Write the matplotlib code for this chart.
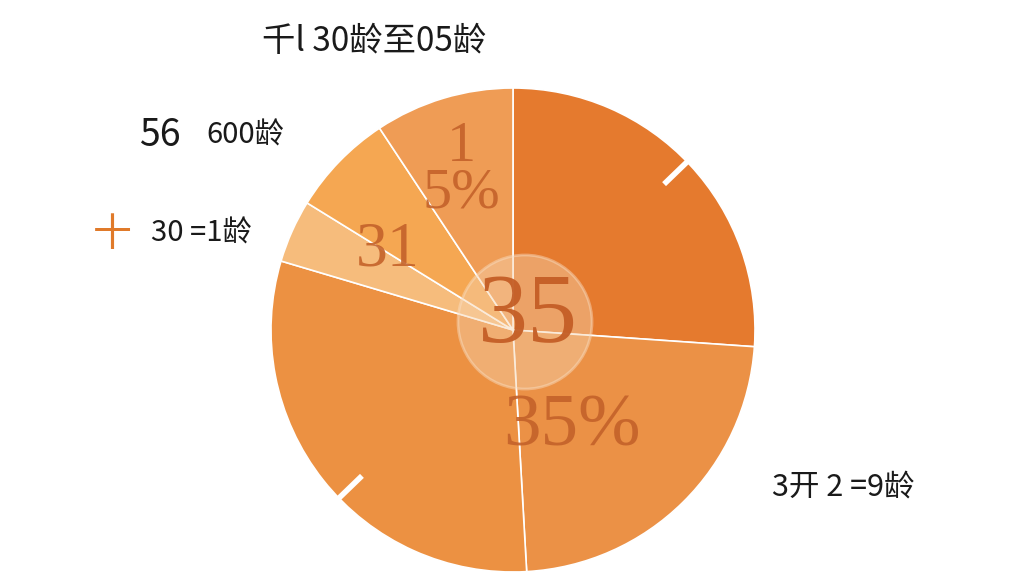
import matplotlib
matplotlib.use("Agg")
import matplotlib.pyplot as plt
import numpy as np
from matplotlib.patches import Circle

# slice shares (percent), clockwise from 12 o'clock
shares = [26.1, 23.0, 30.5, 4.2, 6.9, 9.3]
colors = ["#E57A2E", "#EB9146", "#EC9142", "#F6BC7C", "#F5A752", "#EF9C55"]

inner_texts = ["1\n5%", "31", "35%", "35"]
outer_labels = ["千l 30龄至05龄", "56", "600龄", "十", "30 =1龄", "3开 2 =9龄"]

W, H = 1024, 576
fig = plt.figure(figsize=(10.24, 5.76), dpi=100)
ax = fig.add_axes([0, 0, 1, 1])

cx, cy, r = 513, H - 330, 242
ax.pie(shares, colors=colors, startangle=90, counterclock=False,
       center=(cx, cy), radius=r, frame=True,
       wedgeprops=dict(edgecolor="white", linewidth=1.2))
ax.set_xlim(0, W)
ax.set_ylim(0, H)
ax.axis("off")

# small white rim marks
for ang in (44, 224):
    a = np.deg2rad(ang)
    r0, r1 = r - 32, r + 2
    ax.plot([cx + r0 * np.cos(a), cx + r1 * np.cos(a)],
            [cy + r0 * np.sin(a), cy + r1 * np.sin(a)],
            color="white", lw=4, solid_capstyle="butt", zorder=5)

# translucent centre disc
ax.add_patch(Circle((525, H - 322), 67, facecolor="#F6D3AE", alpha=0.45,
                    edgecolor="#F9E0C6", lw=2, zorder=6))

serif = "Liberation Serif"
tcol = "#C4622A"
ax.text(461, H - 170, inner_texts[0], fontsize=42, family=serif, color=tcol,
        ha="center", va="center", linespacing=0.85, zorder=7, alpha=0.9)
ax.text(388, H - 250, inner_texts[1], fontsize=46, family=serif, color=tcol,
        ha="center", va="center", zorder=7, alpha=0.9)
ax.text(572, H - 428, inner_texts[2], fontsize=54, family=serif, color=tcol,
        ha="center", va="center", zorder=7, alpha=0.9)
ax.text(528, H - 318, inner_texts[3], fontsize=72, family=serif, color="#C45E26",
        ha="center", va="center", zorder=7, alpha=0.95)

cjk = ["Noto Sans CJK SC", "DejaVu Sans"]
ax.text(374, H - 42, outer_labels[0], fontsize=24, family=cjk, color="#1a1a1a",
        ha="center", va="center")
ax.text(160, H - 135, outer_labels[1], fontsize=27, family=cjk, color="#1a1a1a",
        ha="center", va="center")
ax.text(245, H - 136, outer_labels[2], fontsize=21, family=cjk, color="#1a1a1a",
        ha="center", va="center")
ax.text(112, H - 235, outer_labels[3], fontsize=28, family=cjk, color="#E07A2A",
        ha="center", va="center")
ax.text(201, H - 234, outer_labels[4], fontsize=21, family=cjk, color="#1a1a1a",
        ha="center", va="center")
ax.text(843, H - 487, outer_labels[5], fontsize=22, family=cjk, color="#1a1a1a",
        ha="center", va="center")

fig.savefig("out.png", dpi=100, facecolor="white")
